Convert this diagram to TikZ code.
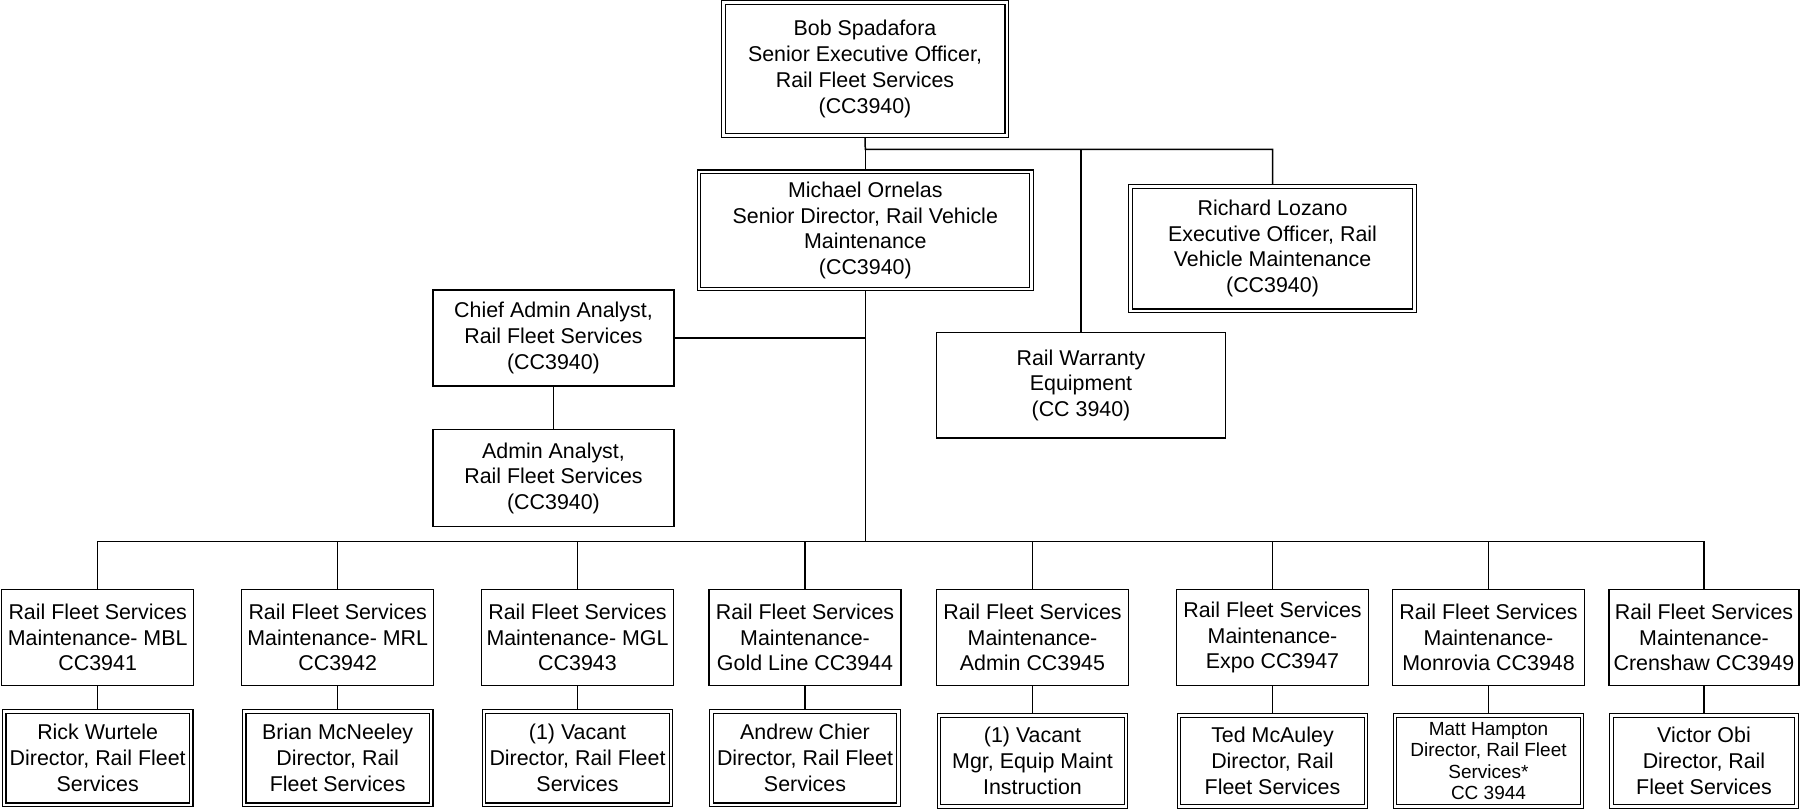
\documentclass[tikz,border=0pt]{standalone}
\usepackage{fontspec}
\setmainfont{Liberation Sans}
\begin{document}
\begin{tikzpicture}[x=1pt,y=-1pt,
  every node/.style={font=\fontsize{21.4}{25.7}\selectfont, align=center, inner sep=0pt},
  box/.style={draw, line width=1.5pt, rectangle},
  dbox/.style={draw, rectangle, double, line width=1.2pt, double distance=2.5pt, outer sep=2.45pt},
  conn/.style={line width=1.5pt}
]
\useasboundingbox (0,0) rectangle (1801,809);

% top
\node[dbox, minimum width=283.5pt, minimum height=132.7pt] (bob) at (865,69) {Bob Spadafora\\Senior Executive Officer,\\Rail Fleet Services\\(CC3940)};
\node[dbox, minimum width=332.7pt, minimum height=117.2pt] (mich) at (865.3,230.4) {Michael Ornelas\\Senior Director, Rail Vehicle\\Maintenance\\(CC3940)};
\node[dbox, minimum width=284pt, minimum height=124.5pt] (rich) at (1272.5,248.6) {Richard Lozano\\Executive Officer, Rail\\Vehicle Maintenance\\(CC3940)};
\node[box, minimum width=288.7pt, minimum height=105.3pt] (warr) at (1081,385.3) {Rail Warranty\\Equipment\\(CC 3940)};
\node[box, minimum width=241pt, minimum height=96pt] (chief) at (553.5,338) {Chief Admin Analyst,\\Rail Fleet Services\\(CC3940)};
\node[box, minimum width=241pt, minimum height=97pt] (adm) at (553.5,478.2) {Admin Analyst,\\Rail Fleet Services\\(CC3940)};

% departments
\tikzset{dept/.style={box, minimum width=192pt, minimum height=96.4pt}}
\node[dept] (d1) at (97.7,637.5) {Rail Fleet Services\\Maintenance- MBL\\CC3941};
\node[dept] (d2) at (337.7,637.5) {Rail Fleet Services\\Maintenance- MRL\\CC3942};
\node[dept] (d3) at (577.5,637.5) {Rail Fleet Services\\Maintenance- MGL\\CC3943};
\node[dept] (d4) at (805,637.5) {Rail Fleet Services\\Maintenance-\\Gold Line CC3944};
\node[dept] (d5) at (1032.5,637.5) {Rail Fleet Services\\Maintenance-\\Admin CC3945};
\node[dept] (d6) at (1272.5,637.5) {Rail Fleet Services\\Maintenance-\\Expo CC3947};
\node[dept] (d7) at (1488.5,637.5) {Rail Fleet Services\\Maintenance-\\Monrovia CC3948};
\node[dept, minimum width=190pt] (d8) at (1704,637.5) {Rail Fleet Services\\Maintenance-\\Crenshaw CC3949};

% persons
\tikzset{pl/.style={dbox, minimum width=187pt, minimum height=93.5pt},
         pr/.style={dbox, minimum width=187pt, minimum height=91pt}}
\node[pl] (p1) at (97.7,758) {Rick Wurtele\\Director, Rail Fleet\\Services};
\node[pl] (p2) at (337.7,758) {Brian McNeeley\\Director, Rail\\Fleet Services};
\node[pl] (p3) at (577.5,758) {(1) Vacant\\Director, Rail Fleet\\Services};
\node[pl] (p4) at (805,758) {Andrew Chier\\Director, Rail Fleet\\Services};
\node[pr] (p5) at (1032.5,761) {(1) Vacant\\Mgr, Equip Maint\\Instruction};
\node[pr] (p6) at (1272.5,761) {Ted McAuley\\Director, Rail\\Fleet Services};
\node[pr, font=\fontsize{19}{21.5}\selectfont] (p7) at (1488.5,761) {Matt Hampton\\Director, Rail Fleet\\Services*\\CC 3944};
\node[pr, minimum width=185pt] (p8) at (1704,761) {Victor Obi\\Director, Rail\\Fleet Services};

% connectors
\coordinate (j1) at (865.3,149.3);
\coordinate (bus) at (865.3,541.7);
\draw[conn] (bob.south) -- (j1) -| (rich.north);
\draw[conn] (j1) -- (mich.north);
\draw[conn] (warr.north |- j1) -- (warr.north);
\draw[conn] (mich.south) -- (mich.south |- bus);
\draw[conn] (chief.east) -- (chief.east -| mich.south);
\draw[conn] (chief.south) -- (adm.north);
\draw[conn] (d1.north) |- (d8.north |- bus) -- (d8.north);
\foreach \k in {2,...,7} {\draw[conn] (d\k.north) -- (d\k.north |- bus);}
\foreach \k in {1,...,8} {\draw[conn] (d\k.south) -- (p\k.north);}
\end{tikzpicture}
\end{document}
